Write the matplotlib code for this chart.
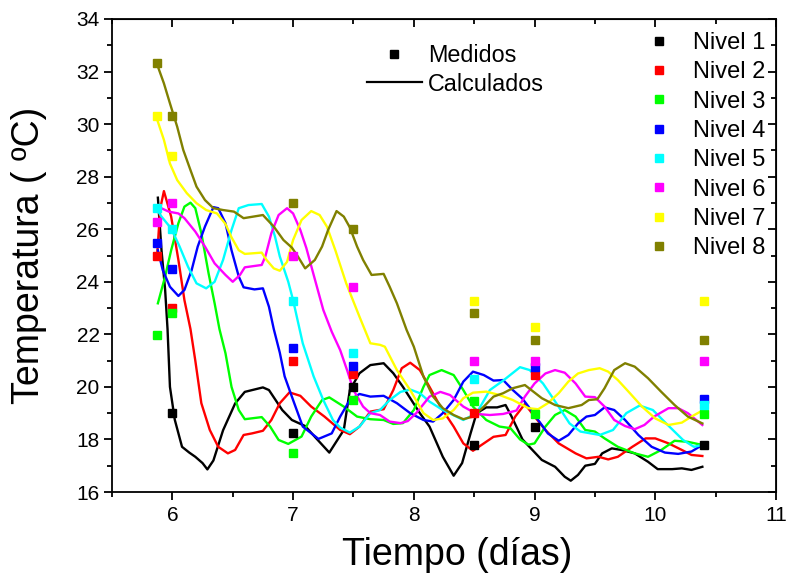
import numpy as np
import matplotlib
matplotlib.use('Agg')
import matplotlib.pyplot as plt
from matplotlib.lines import Line2D
from matplotlib.ticker import MultipleLocator

plt.rcParams['font.family'] = ['Liberation Sans', 'DejaVu Sans']

nan = np.nan

# measured points (markers)
t_med = [5.875, 6.0, 7.0, 7.5, 8.5, 9.0, 10.4]
med_n1 = [nan, 19.0, 18.26, 19.99, 17.79, 18.49, 17.8]
med_n2 = [24.98, 22.99, 20.99, 20.49, 19.0, 20.47, nan]
med_n3 = [21.98, 22.8, 17.47, 19.5, 19.48, 18.97, 18.97]
med_n4 = [25.49, 24.49, 21.47, 20.8, nan, 20.75, 19.54]
med_n5 = [26.8, 26.0, 23.28, 21.3, 20.29, nan, 19.3]
med_n6 = [26.29, 27.01, 24.98, 23.81, 21.0, 21.0, 21.0]
med_n7 = [30.31, 28.79, nan, nan, 23.28, 22.28, 23.28]
med_n8 = [32.31, 30.31, 27.01, 26.0, 22.8, 21.8, 21.8]

# calculated curves
t_c1 = [5.88, 5.91, 5.94, 5.96, 5.98, 6.02, 6.08, 6.14, 6.19, 6.25, 6.29, 6.34, 6.42, 6.52, 6.60,
        6.75, 6.80, 6.91, 6.99, 7.10, 7.18, 7.30, 7.42, 7.47, 7.55, 7.64, 7.75, 7.83, 7.91, 8.05,
        8.13, 8.24, 8.33, 8.40, 8.47, 8.52, 8.60, 8.69, 8.76, 8.81, 8.90, 9.06, 9.17, 9.25, 9.30,
        9.36, 9.42, 9.50, 9.56, 9.64, 9.72, 9.83, 9.94, 10.02, 10.14, 10.22, 10.30, 10.39]
calc_n1 = [27.2, 25.2, 23.7, 22.2, 20.0, 18.75, 17.72, 17.5, 17.34, 17.1, 16.86, 17.2, 18.35, 19.37, 19.81,
           19.98, 19.88, 19.12, 18.74, 18.51, 18.1, 17.5, 18.36, 19.88, 20.52, 20.83, 20.9, 20.52, 20.0, 19.0,
           18.49, 17.34, 16.62, 17.1, 18.23, 19.0, 19.22, 19.22, 19.31, 18.87, 18.0, 17.22, 16.96, 16.58, 16.43,
           16.65, 17.0, 17.07, 17.47, 17.66, 17.6, 17.47, 17.15, 16.87, 16.87, 16.9, 16.84, 16.96]

t_c2 = [5.875, 5.90, 5.93, 5.99, 6.05, 6.10, 6.15, 6.19, 6.24, 6.31, 6.38, 6.46, 6.52, 6.59, 6.66,
        6.75, 6.82, 6.89, 6.97, 7.06, 7.15, 7.26, 7.39, 7.47, 7.55, 7.64, 7.75, 7.83, 7.90, 7.97,
        8.05, 8.13, 8.22, 8.33, 8.41, 8.49, 8.58, 8.66, 8.76, 8.84, 8.92, 9.0, 9.09, 9.2, 9.34,
        9.43, 9.53, 9.61, 9.69, 9.81, 9.92, 10.0, 10.11, 10.22, 10.3, 10.39]
calc_n2 = [25.1, 26.8, 27.45, 26.48, 24.83, 23.3, 22.2, 21.0, 19.38, 18.36, 17.72, 17.47, 17.6, 18.17, 18.23,
           18.33, 18.74, 19.38, 19.79, 19.66, 19.25, 18.87, 18.36, 18.2, 18.49, 19.06, 19.15, 19.88, 20.71, 20.92,
           20.64, 20.0, 19.25, 18.49, 17.85, 17.57, 17.85, 18.1, 18.17, 18.87, 19.35, 18.87, 18.36, 17.85, 17.47,
           17.28, 17.34, 17.24, 17.34, 17.72, 18.04, 18.04, 17.85, 17.6, 17.41, 17.37]

t_c3 = [5.88, 5.94, 5.99, 6.05, 6.10, 6.15, 6.19, 6.24, 6.30, 6.35, 6.39, 6.44, 6.49, 6.55, 6.60,
        6.74, 6.81, 6.88, 6.96, 7.07, 7.15, 7.24, 7.30, 7.42, 7.53, 7.64, 7.75, 7.83, 7.91, 8.0,
        8.08, 8.13, 8.23, 8.33, 8.41, 8.49, 8.60, 8.71, 8.80, 8.88, 8.95, 9.0, 9.09, 9.17, 9.25,
        9.34, 9.42, 9.5, 9.58, 9.69, 9.83, 9.94, 10.05, 10.16, 10.27, 10.39]
calc_n3 = [23.18, 24.2, 25.2, 26.23, 26.86, 27.01, 26.8, 25.85, 24.32, 23.18, 22.2, 21.28, 20.0, 19.12, 18.77,
           18.85, 18.49, 17.98, 17.83, 18.11, 18.87, 19.5, 19.6, 19.25, 18.87, 18.77, 18.74, 18.59, 18.62, 19.12,
           20.0, 20.45, 20.64, 20.45, 19.88, 19.25, 18.74, 18.49, 18.43, 18.0, 17.8, 17.85, 18.49, 18.93, 19.12,
           18.87, 18.36, 18.3, 18.04, 17.72, 17.47, 17.34, 17.6, 17.95, 17.91, 17.79]

t_c4 = [5.88, 5.92, 5.98, 6.05, 6.10, 6.16, 6.21, 6.27, 6.34, 6.38, 6.44, 6.49, 6.55, 6.59, 6.68,
        6.75, 6.80, 6.84, 6.89, 6.93, 7.0, 7.08, 7.21, 7.32, 7.39, 7.47, 7.55, 7.64, 7.75, 7.86,
        7.97, 8.08, 8.16, 8.24, 8.33, 8.41, 8.49, 8.58, 8.66, 8.74, 8.82, 8.90, 8.95, 9.03, 9.11,
        9.2, 9.28, 9.36, 9.43, 9.5, 9.58, 9.66, 9.75, 9.86, 9.97, 10.08, 10.19, 10.3, 10.39]
calc_n4 = [25.2, 24.45, 23.81, 23.46, 23.69, 24.45, 25.34, 26.1, 26.84, 26.8, 26.23, 25.2, 24.2, 23.79, 23.71,
           23.75, 23.05, 22.2, 21.3, 20.4, 19.5, 18.49, 18.02, 18.23, 18.87, 19.5, 19.73, 19.63, 19.66, 19.38,
           19.0, 18.74, 18.68, 19.0, 19.5, 20.2, 20.58, 20.45, 20.24, 20.26, 19.88, 19.55, 19.25, 18.74, 18.23,
           17.95, 18.17, 18.61, 18.87, 18.93, 19.22, 19.12, 18.74, 18.17, 17.72, 17.5, 17.45, 17.54, 17.79]

t_c5 = [5.88, 5.91, 5.99, 6.06, 6.13, 6.20, 6.28, 6.35, 6.42, 6.49, 6.55, 6.63, 6.74, 6.80, 6.85,
        6.89, 6.96, 7.0, 7.08, 7.17, 7.25, 7.33, 7.39, 7.47, 7.55, 7.64, 7.72, 7.80, 7.89, 7.97,
        8.05, 8.13, 8.24, 8.41, 8.52, 8.63, 8.74, 8.88, 8.96, 9.07, 9.18, 9.29, 9.38, 9.54, 9.65,
        9.76, 9.87, 9.98, 10.09, 10.23, 10.32, 10.39]
calc_n5 = [26.7, 26.48, 26.03, 25.34, 24.57, 23.94, 23.75, 24.0, 24.83, 25.97, 26.8, 26.92, 26.96, 26.48, 25.72,
           24.96, 24.0, 23.3, 21.66, 20.4, 19.5, 18.74, 18.45, 18.26, 18.49, 19.0, 19.12, 19.5, 19.81, 19.9,
           19.76, 19.44, 19.12, 18.74, 19.0, 19.88, 20.24, 20.75, 20.64, 20.13, 19.38, 18.61, 18.3, 18.17, 18.36,
           19.0, 19.29, 19.12, 18.61, 17.98, 17.72, 17.79]

t_c6 = [5.88, 5.97, 6.05, 6.10, 6.19, 6.27, 6.35, 6.44, 6.50, 6.56, 6.60, 6.74, 6.77, 6.82, 6.88,
        6.95, 7.0, 7.06, 7.11, 7.18, 7.25, 7.32, 7.39, 7.45, 7.50, 7.58, 7.64, 7.72, 7.80, 7.89,
        7.95, 8.02, 8.13, 8.22, 8.30, 8.41, 8.52, 8.63, 8.74, 8.85, 8.92, 9.0, 9.09, 9.17, 9.25,
        9.34, 9.42, 9.50, 9.58, 9.66, 9.75, 9.83, 9.91, 9.99, 10.11, 10.19, 10.27, 10.39]
calc_n6 = [26.86, 26.67, 26.6, 26.42, 25.91, 25.34, 24.7, 24.26, 24.0, 24.26, 24.55, 24.64, 24.96, 25.85, 26.54,
           26.8, 26.6, 25.97, 25.28, 24.1, 22.93, 22.1, 21.4, 20.6, 19.88, 19.25, 19.0, 18.93, 18.68, 18.62,
           18.7, 19.0, 19.63, 19.81, 19.69, 19.25, 18.97, 18.93, 18.97, 19.1, 19.63, 20.13, 20.51, 20.64, 20.54,
           20.13, 19.63, 19.61, 19.25, 18.74, 18.51, 18.39, 18.55, 18.87, 19.19, 19.19, 19.0, 18.55]

t_c7 = [5.88, 5.93, 5.98, 6.04, 6.12, 6.20, 6.28, 6.37, 6.44, 6.49, 6.55, 6.60, 6.74, 6.78, 6.84,
        6.89, 6.95, 7.0, 7.07, 7.15, 7.22, 7.28, 7.35, 7.44, 7.55, 7.64, 7.72, 7.76, 7.86, 7.97,
        8.08, 8.16, 8.24, 8.33, 8.41, 8.49, 8.60, 8.71, 8.82, 8.95, 9.03, 9.11, 9.2, 9.28, 9.36,
        9.45, 9.54, 9.61, 9.69, 9.78, 9.89, 10.0, 10.11, 10.22, 10.3, 10.39]
calc_n7 = [30.09, 29.4, 28.5, 27.87, 27.37, 26.99, 26.73, 26.6, 26.2, 25.69, 25.2, 25.06, 25.11, 24.83, 24.51,
           24.42, 24.76, 25.59, 26.35, 26.69, 26.54, 26.1, 25.2, 23.94, 22.67, 21.66, 21.6, 21.53, 20.64, 19.88,
           19.0, 18.74, 18.8, 19.12, 19.57, 19.78, 19.82, 19.69, 19.5, 19.19, 19.15, 19.38, 19.76, 20.2, 20.51,
           20.64, 20.71, 20.58, 20.26, 19.81, 19.25, 18.8, 18.55, 18.64, 18.87, 19.1]

t_c8 = [5.88, 5.93, 5.98, 6.04, 6.09, 6.15, 6.20, 6.27, 6.34, 6.42, 6.51, 6.59, 6.67, 6.75, 6.84,
        6.92, 6.99, 7.04, 7.10, 7.18, 7.24, 7.29, 7.36, 7.42, 7.47, 7.53, 7.58, 7.65, 7.75, 7.80,
        7.86, 7.94, 8.0, 8.08, 8.16, 8.24, 8.33, 8.41, 8.49, 8.58, 8.66, 8.74, 8.82, 8.92, 9.06,
        9.17, 9.28, 9.39, 9.45, 9.52, 9.58, 9.66, 9.75, 9.83, 9.94, 10.05, 10.16, 10.27, 10.39]
calc_n8 = [32.19, 31.55, 30.79, 29.9, 29.02, 28.25, 27.62, 27.11, 26.8, 26.73, 26.67, 26.42, 26.48, 26.54, 26.1,
           25.59, 25.3, 24.96, 24.51, 24.83, 25.34, 25.97, 26.69, 26.48, 26.07, 25.34, 24.83, 24.26, 24.3, 23.81,
           23.18, 22.17, 21.53, 20.39, 19.63, 19.19, 18.93, 18.77, 18.87, 19.25, 19.63, 19.76, 19.95, 20.07, 19.57,
           19.31, 19.19, 19.31, 19.5, 19.53, 19.95, 20.64, 20.9, 20.77, 20.33, 19.81, 19.31, 18.87, 18.61]

labels = ['Nivel 1', 'Nivel 2', 'Nivel 3', 'Nivel 4', 'Nivel 5', 'Nivel 6', 'Nivel 7', 'Nivel 8']
colors = ['#000000', '#ff0000', '#00ff00', '#0000ff', '#00ffff', '#ff00ff', '#ffff00', '#808000']

med = [med_n1, med_n2, med_n3, med_n4, med_n5, med_n6, med_n7, med_n8]
t_calc = [t_c1, t_c2, t_c3, t_c4, t_c5, t_c6, t_c7, t_c8]
calc = [calc_n1, calc_n2, calc_n3, calc_n4, calc_n5, calc_n6, calc_n7, calc_n8]

fig = plt.figure(figsize=(7.86, 5.77), dpi=100)
ax = fig.add_axes([112/786, 1 - 492/577, 664/786, 473/577])

for i in range(8):
    ax.plot(t_calc[i], calc[i], color=colors[i], lw=1.7, zorder=2, solid_joinstyle='round')
for i in range(8):
    ax.plot(t_med, med[i], 's', color=colors[i], ms=6.2, mec=colors[i], zorder=3)

ax.set_xlim(5.5, 11)
ax.set_ylim(16, 34)
ax.xaxis.set_major_locator(MultipleLocator(1))
ax.xaxis.set_minor_locator(MultipleLocator(0.5))
ax.yaxis.set_major_locator(MultipleLocator(2))
ax.yaxis.set_minor_locator(MultipleLocator(1))
ax.tick_params(which='both', direction='out', width=1.3, labelsize=15, top=False, right=False)
ax.tick_params(axis='x', which='major', length=6, pad=4)
ax.tick_params(axis='y', which='major', length=6, pad=3)
ax.tick_params(which='minor', length=3.3)
for s in ax.spines.values():
    s.set_linewidth(1.3)

# mirrored ticks on top/right, drawn inward
top = ax.secondary_xaxis('top')
top.xaxis.set_major_locator(MultipleLocator(1))
top.xaxis.set_minor_locator(MultipleLocator(0.5))
top.tick_params(which='both', direction='in', width=1.3, labeltop=False)
top.tick_params(which='major', length=6)
top.tick_params(which='minor', length=3.3)
right = ax.secondary_yaxis('right')
right.yaxis.set_major_locator(MultipleLocator(2))
right.yaxis.set_minor_locator(MultipleLocator(1))
right.tick_params(which='both', direction='in', width=1.3, labelright=False)
right.tick_params(which='major', length=6)
right.tick_params(which='minor', length=3.3)

ax.set_xlabel('Tiempo (días)', fontsize=27)
ax.xaxis.set_label_coords((457 - 112) / 664, -0.095)
ax.set_ylabel('Temperatura ( ºC)', fontsize=27)
ax.yaxis.set_label_coords(-0.098, 0.5)

h1 = [Line2D([], [], ls='none', marker='s', color='black', ms=6.2),
      Line2D([], [], color='black', lw=1.6)]
leg1 = ax.legend(h1, ['Medidos', 'Calculados'], loc='upper left',
                 bbox_to_anchor=(367/786, 1 - 44/577), bbox_transform=fig.transFigure,
                 frameon=False, fontsize=16.8, handlelength=2.35, handletextpad=0.27,
                 labelspacing=0.24, borderpad=0, borderaxespad=0)
ax.add_artist(leg1)

h2 = [Line2D([], [], ls='none', marker='s', color=c, ms=6.2) for c in colors]
ax.legend(h2, labels, loc='upper left',
          bbox_to_anchor=(647/786, 1 - 32/577), bbox_transform=fig.transFigure,
          frameon=False, fontsize=17, handlelength=1.0, handletextpad=0.95,
          labelspacing=0.31, borderpad=0, borderaxespad=0)

fig.savefig('out.png', dpi=100)
